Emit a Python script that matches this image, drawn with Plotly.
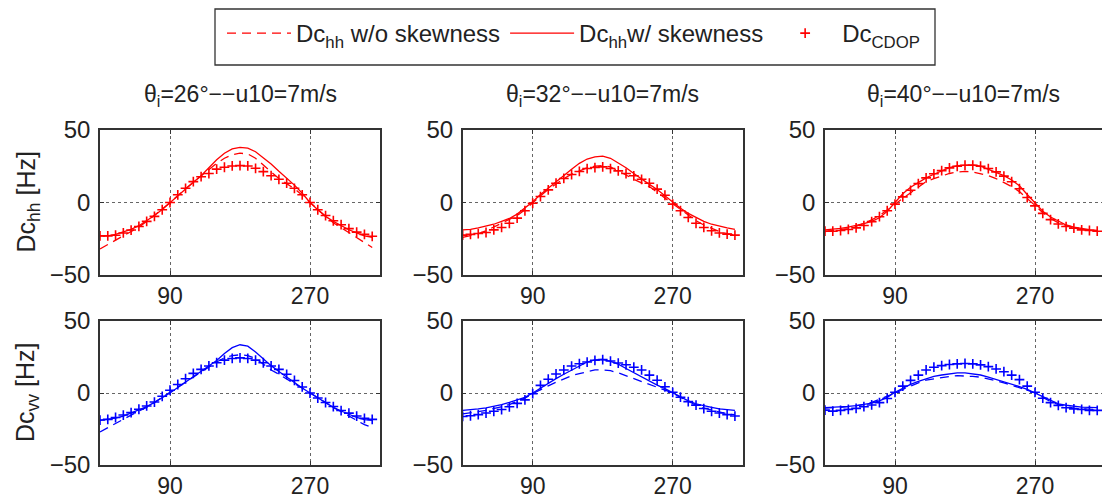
import plotly.graph_objects as go

# ---------------- data ----------------
angles = list(range(0, 360, 10))  # azimuth [deg]

hh26_wo = [-32, -29, -26, -23, -20, -17, -13, -9, -4.5, 0, 5, 9.5, 14, 18.5, 22.5, 27, 30.5, 33, 34, 33.5,
           30.5, 26, 21, 16.5, 13, 9.5, 5, 0, -5, -9.5, -14, -17.5, -21, -24.5, -28, -31]
hh26_w = [-23, -23, -22, -20.5, -18.5, -16, -12.5, -9, -4.8, 0, 5, 9.5, 14, 18.5, 24, 29.5, 34, 37, 38, 37.5,
          35, 31, 26.5, 21.5, 16.7, 12, 6.4, 0, -5, -9.6, -13, -16, -18.8, -21, -23, -24]
hh26_cdop = [-23, -23, -22.6, -21, -19, -16.5, -13, -9.6, -5, 0, 5.3, 9.8, 14.4, 17.8, 20, 23, 24.3, 25.2, 25.4, 25.2,
             23.6, 21.3, 18.5, 16, 13.3, 9.8, 5.3, 0, -5, -9, -12.6, -15.3, -18, -20.4, -22, -23.3]

vv26_wo = [-27, -24, -21, -18, -15, -12.5, -10, -6.5, -3, 0.5, 4, 7.5, 11, 15, 18, 21.5, 24.5, 26, 26.5, 26,
           24, 20, 16, 13, 9.5, 6.5, 3.5, 0, -3.5, -7, -10, -13, -16, -19, -22, -24]
vv26_w = [-19, -18.5, -17.5, -16, -14, -12, -9.5, -6.5, -3.5, 0, 3.8, 7.5, 11, 14.5, 18.5, 22.5, 27.5, 31.5, 33.5, 32.5,
          28.5, 23.5, 19, 15, 11, 7, 3.5, 0, -3.5, -6.8, -10, -12.5, -15, -17, -18.5, -19]
vv26_cdop = [-18.8, -18.3, -17, -15.3, -13.6, -11.3, -9, -6.3, -2.3, 1.9, 5.9, 9.9, 13.6, 16.4, 18.8, 21, 22.8, 24, 24.4, 24,
             22.8, 21, 18.8, 16.4, 13, 8.7, 4.2, 0, -3.5, -6.6, -9.4, -12.2, -14, -16, -17.6, -18.3]

hh32_wo = [-24, -23, -21.5, -19.5, -17, -14.5, -12, -9, -5, 0, 4.5, 9, 13, 16.5, 19.5, 22, 24, 25, 25.5, 24.5,
           22, 19, 16, 13.5, 11, 7, 3, -1, -5, -9, -12.5, -15.5, -18, -20, -21.5, -22.5]
hh32_w = [-18.9, -18.5, -17.5, -16.5, -15, -13, -11, -8, -4, 0.5, 5.5, 10, 14.5, 19, 23, 27, 30, 31.5, 32, 30.5,
          27.5, 24, 20, 16, 12.5, 9, 4.5, 0, -4, -7.5, -10.5, -13, -15, -16.5, -17.5, -18.5]
hh32_cdop = [-22.5, -22, -21.4, -20.7, -18.9, -17.2, -14.3, -10.8, -5.7, -0.5, 4.1, 8.7, 13.3, 16.6, 19.3, 21.4, 23.4, 24.1, 24.6, 23.4,
             21.8, 20, 18.4, 16, 13.3, 9.2, 5, -1.1, -5.7, -10.3, -14.3, -17.2, -19.5, -21, -21.8, -22.5]

vv32_wo = [-14.5, -14, -13, -12, -11, -9.5, -8, -6, -3.5, -0.5, 2.5, 5, 7.5, 10, 12, 13.5, 15, 16, 16, 15.5,
           14, 12, 10, 8, 6, 4, 2, 0, -3, -6, -8.5, -10.5, -12, -13.5, -14.5, -15]
vv32_w = [-12, -11.7, -11, -10.3, -9.3, -8, -6.5, -5, -3, 0, 3.5, 7, 10, 13, 16, 19, 21.5, 23, 23.3, 22,
          20, 17, 14, 11, 8, 5.5, 3, 0, -3, -5.5, -7.5, -9, -10, -11, -11.5, -12]
vv32_cdop = [-16.3, -15.8, -15, -13.9, -12.7, -11.5, -9.6, -7.2, -4.8, -0.5, 5.3, 9.6, 13.2, 16, 18.7, 20.3, 21.5, 22.7, 23.2, 22.2,
             20.8, 19.6, 17.9, 16, 12.4, 8.9, 4.3, 0.5, -2.9, -6, -8.4, -10.8, -12.7, -13.9, -15, -16]

hh40_wo = [-20, -19.5, -19, -18, -16.5, -14.5, -12, -9, -5, -1, 3, 7, 11, 14.5, 16.5, 18.5, 20, 21, 21.5, 21,
           20, 18.5, 16.5, 14, 11, 7.5, 3, -2, -7, -11, -14, -16, -17.5, -18.5, -19, -19.5]
hh40_w = [-18.9, -18.5, -17.8, -17, -16, -14.5, -13, -10.5, -6, 0, 6, 10.5, 14, 17, 19.5, 22, 24, 25.5, 26, 26,
          25, 23, 21, 18.5, 15.5, 11.5, 5.5, -0.5, -6, -10, -13, -15.5, -17, -18, -18.8, -19.3]
hh40_cdop = [-19.8, -19.8, -19.3, -18.6, -17.5, -15.9, -13.2, -9.8, -5.7, -1.1, 3.9, 8.4, 13, 17, 19.8, 22, 23.9, 25, 25.7, 25.7,
             25, 23.4, 21.1, 18.2, 14.3, 9.5, 3.4, -2.3, -7.5, -11.8, -14.8, -16.6, -17.7, -18.9, -19.3, -19.8]

vv40_wo = [-10.5, -10.5, -10, -9.5, -9, -8, -6.5, -4.5, -2.5, 0, 2.5, 5, 7, 9, 10, 11, 11.5, 12, 12, 11.5,
           11, 10, 8.5, 7, 5.5, 4, 2, 0, -3, -6, -8, -9.5, -10.5, -11, -11.5, -11.5]
vv40_w = [-10.2, -10, -9.8, -9.3, -8.8, -8, -7, -5.5, -3, 0.5, 3.5, 6, 8, 10, 11.5, 12.5, 13.5, 14, 14, 13.5,
          12.5, 11, 9.5, 8, 6.5, 4.5, 2.5, 0, -3, -5.5, -7.5, -8.5, -9.3, -9.8, -10, -10.2]
vv40_cdop = [-11.9, -12.6, -12.1, -11.4, -10.7, -9.5, -8.3, -6.7, -3.8, 0.5, 4.8, 8.8, 12.4, 16, 17.9, 19, 19.8, 20.2, 20.5, 20.2,
             19.5, 18.3, 16.7, 14.8, 12.4, 9.3, 4.8, 0.5, -3.6, -6.7, -8.6, -10.2, -11, -11.4, -12.1, -12.1]

titles = ["θ<sub>i</sub>=26°−−u10=7m/s", "θ<sub>i</sub>=32°−−u10=7m/s", "θ<sub>i</sub>=40°−−u10=7m/s"]
ylabels = ["Dc<sub>hh</sub> [Hz]", "Dc<sub>vv</sub> [Hz]"]
legend_names = ["Dc<sub>hh</sub> w/o skewness", "Dc<sub>hh</sub>w/ skewness", "Dc<sub>CDOP</sub>"]
x_ticks = [90, 270]
y_ticks = [-50, 0, 50]

panels = [
    [(hh26_wo, hh26_w, hh26_cdop), (hh32_wo, hh32_w, hh32_cdop), (hh40_wo, hh40_w, hh40_cdop)],
    [(vv26_wo, vv26_w, vv26_cdop), (vv32_wo, vv32_w, vv32_cdop), (vv40_wo, vv40_w, vv40_cdop)],
]
row_colors = ["#ff0000", "#0000ff"]

# ---------------- layout geometry (pixels) ----------------
W, H = 1102, 500
PX_PER_DEG = 280 / 360
col_px = [(100, 380), (462.7, 742.7), (825, 1102)]
row_px = [(130, 275), (321, 465)]

FONT = "Liberation Sans, Arial, Helvetica, sans-serif"
TXT = "#222"

fig = go.Figure()
layout = dict(
    width=W, height=H, margin=dict(l=0, r=0, t=0, b=0, autoexpand=False),
    paper_bgcolor="white", plot_bgcolor="white",
    font=dict(family=FONT, size=24, color=TXT),
    showlegend=True,
)

annotations = []
for r in range(2):
    for c in range(3):
        k = r * 3 + c + 1
        xa = "xaxis" if k == 1 else f"xaxis{k}"
        ya = "yaxis" if k == 1 else f"yaxis{k}"
        xref = "x" if k == 1 else f"x{k}"
        yref = "y" if k == 1 else f"y{k}"
        x0, x1 = col_px[c]
        y0, y1 = row_px[r]
        xmax = (x1 - x0) / PX_PER_DEG
        layout[xa] = dict(
            domain=[x0 / W, x1 / W], range=[0, xmax], anchor=yref, automargin=False,
            tickmode="array", tickvals=x_ticks, ticktext=[str(v) for v in x_ticks],
            ticks="inside", ticklen=4, tickcolor="#333",
            showline=True, linecolor="#333", linewidth=1.5, mirror="ticks",
            showgrid=True, gridcolor="#666", griddash="dot", gridwidth=1,
            zeroline=False, tickfont=dict(size=23, color=TXT), ticklabelstandoff=0,
        )
        layout[ya] = dict(
            domain=[1 - y1 / H, 1 - y0 / H], range=[-50, 50], anchor=xref, automargin=False,
            tickmode="array", tickvals=y_ticks, ticktext=["\u221250", "0", "50"],
            ticks="inside", ticklen=4, tickcolor="#333",
            showline=True, linecolor="#333", linewidth=1.5,
            mirror=("ticks" if c < 2 else False),
            showgrid=True, gridcolor="#666", griddash="dot", gridwidth=1,
            zeroline=False, tickfont=dict(size=24, color=TXT), ticklabelstandoff=3,
        )
        wo, w, cd = panels[r][c]
        col = row_colors[r]
        first = (r == 0 and c == 0)
        fig.add_trace(go.Scatter(
            x=angles, y=wo, mode="lines", xaxis=xref, yaxis=yref,
            line=dict(color=col, width=1.3, dash="9px,6px"),
            name=legend_names[0], showlegend=first))
        fig.add_trace(go.Scatter(
            x=angles, y=w, mode="lines", xaxis=xref, yaxis=yref,
            line=dict(color=col, width=1.3),
            name=legend_names[1], showlegend=first))
        fig.add_trace(go.Scatter(
            x=angles, y=cd, mode="markers", xaxis=xref, yaxis=yref,
            marker=dict(symbol="cross-thin", size=7, line=dict(color=col, width=1.6), color=col),
            name=legend_names[2], showlegend=first))

# subplot titles
for c in range(3):
    x0, x1 = col_px[c]
    annotations.append(dict(
        text=titles[c], xref="paper", yref="paper",
        x=(x0 + x1) / 2 / W, y=1 - 96 / H, xanchor="center", yanchor="middle",
        showarrow=False, font=dict(size=23, family=FONT, color=TXT)))

# y-axis labels (left column only)
for r in range(2):
    y0, y1 = row_px[r]
    annotations.append(dict(
        text=ylabels[r], xref="paper", yref="paper",
        x=27 / W, y=1 - (y0 + y1) / 2 / H, xanchor="center", yanchor="middle",
        textangle=-90, showarrow=False, font=dict(size=25, family=FONT, color=TXT)))

layout["annotations"] = annotations
layout["legend"] = dict(
    orientation="h", x=222 / W, xanchor="left", y=1 - 11 / H, yanchor="top",
    bgcolor="rgba(0,0,0,0)", borderwidth=0,
    font=dict(size=24, family=FONT, color=TXT), itemwidth=64,
)
layout["shapes"] = [dict(
    type="rect", xref="paper", yref="paper",
    x0=215 / W, x1=935 / W, y0=1 - 65 / H, y1=1 - 9 / H,
    line=dict(color="#333", width=1.3), fillcolor="rgba(0,0,0,0)")]

fig.update_layout(**layout)
fig.write_html("out.html")
